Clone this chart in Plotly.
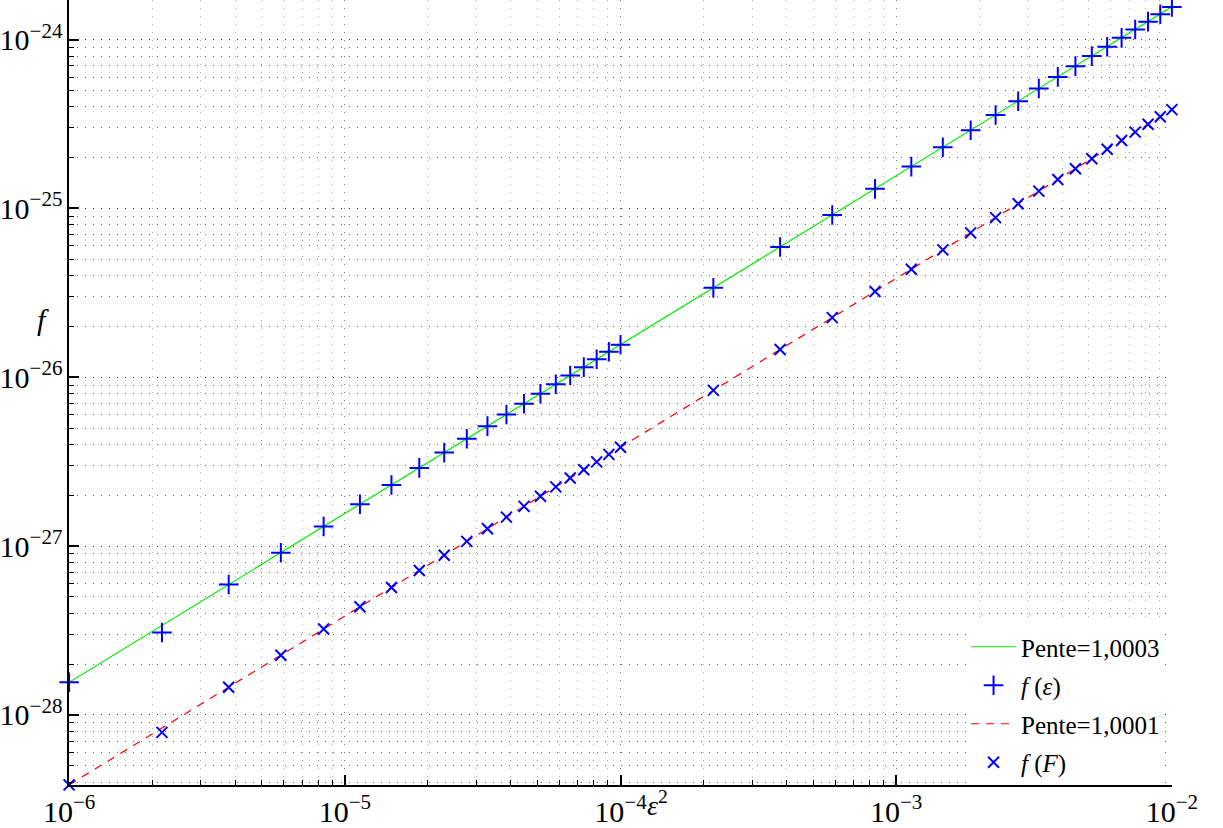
import plotly.graph_objects as go

# x = epsilon^2
eps2 = [1.0e-6, 2.1717e-6, 3.7922e-6, 5.8615e-6, 8.3795e-6, 1.13463e-5, 1.47618e-5,
        1.86261e-5, 2.29393e-5, 2.77011e-5, 3.29109e-5, 3.85703e-5, 4.46785e-5,
        5.12355e-5, 5.82413e-5, 6.56959e-5, 7.35975e-5, 8.19496e-5, 9.07504e-5, 1.0e-4,
        2.1717e-4, 3.7922e-4, 5.8615e-4, 8.3795e-4, 1.13463e-3, 1.47618e-3,
        1.86261e-3, 2.29393e-3, 2.77011e-3, 3.29109e-3, 3.85703e-3, 4.46785e-3,
        5.12355e-3, 5.82413e-3, 6.56959e-3, 7.35975e-3, 8.19496e-3, 9.07504e-3, 1.0e-2]

f_eps = [1.56e-28, 3.08e-28, 5.92e-28, 9.14e-28, 1.307e-27, 1.770e-27, 2.303e-27,
         2.906e-27, 3.579e-27, 4.321e-27, 5.134e-27, 6.017e-27, 6.970e-27,
         7.993e-27, 9.086e-27, 1.0249e-26, 1.1481e-26, 1.2784e-26, 1.4157e-26, 1.560e-26,
         3.388e-26, 5.916e-26, 9.144e-26, 1.3072e-25, 1.770e-25, 2.303e-25,
         2.906e-25, 3.579e-25, 4.321e-25, 5.134e-25, 6.017e-25, 6.970e-25,
         7.993e-25, 9.086e-25, 1.0249e-24, 1.1481e-24, 1.2784e-24, 1.4157e-24, 1.560e-24]

f_F = [3.85e-29, 7.88e-29, 1.460e-28, 2.257e-28, 3.226e-28, 4.368e-28, 5.683e-28,
       7.171e-28, 8.832e-28, 1.0665e-27, 1.2671e-27, 1.4850e-27, 1.7201e-27,
       1.9726e-27, 2.2423e-27, 2.5293e-27, 2.8335e-27, 3.1551e-27, 3.4939e-27, 3.85e-27,
       8.361e-27, 1.460e-26, 2.257e-26, 3.226e-26, 4.368e-26, 5.683e-26,
       7.171e-26, 8.832e-26, 1.0665e-25, 1.2671e-25, 1.4850e-25, 1.7201e-25,
       1.9726e-25, 2.2423e-25, 2.5293e-25, 2.8335e-25, 3.1551e-25, 3.4939e-25, 3.85e-25]

fit_x = [1e-6, 1e-2]
fit_eps = [1.56e-28, 1.5643e-24]
fit_F = [3.85e-29, 3.8535e-25]

names = ["Pente=1,0003", "<i>f</i> (<i>ε</i>)", "Pente=1,0001", "<i>f</i> (<i>F</i>)"]

SERIF = "Liberation Serif"

fig = go.Figure()
fig.add_trace(go.Scatter(x=fit_x, y=fit_eps, mode="lines", name=names[0], legendgroup="a",
                         line=dict(color="#00ee00", width=1.2)))
fig.add_trace(go.Scatter(x=eps2, y=f_eps, mode="markers", name=names[1], legendgroup="b",
                         cliponaxis=False,
                         marker=dict(symbol="cross-thin", size=14, color="#0000ff",
                                     line=dict(color="#0000ff", width=2))))
fig.add_trace(go.Scatter(x=fit_x, y=fit_F, mode="lines", name=names[2], legendgroup="c",
                         line=dict(color="#ff0000", width=1.2, dash="8px,7px")))
fig.add_trace(go.Scatter(x=eps2, y=f_F, mode="markers", name=names[3], legendgroup="d",
                         cliponaxis=False,
                         marker=dict(symbol="x-thin", size=11, color="#0000ff",
                                     line=dict(color="#0000ff", width=2))))

axis_common = dict(
    type="log", showline=True, linecolor="black", linewidth=1.5, mirror=False,
    ticks="inside", ticklen=10, tickwidth=1.5, tickcolor="black",
    tickmode="linear", tick0=0, dtick=1,
    exponentformat="power", showexponent="all",
    tickfont=dict(family=SERIF, size=24, color="black"),
    zeroline=False,
)

fig.update_layout(
    width=1223, height=828,
    margin=dict(l=68, r=51, t=0, b=37),
    paper_bgcolor="white", plot_bgcolor="white",
    showlegend=True,
    legend=dict(x=0.9937, xanchor="right", y=0.0, yanchor="bottom",
                bgcolor="white", borderwidth=0, tracegroupgap=3,
                itemwidth=45, traceorder="grouped",
                font=dict(family=SERIF, size=25, color="black")),
    xaxis=dict(axis_common, range=[-6.0004, -1.9996], showgrid=True, gridcolor="#777",
               griddash="1px,7px", gridwidth=1,
               minor=dict(ticks="inside", ticklen=5, tickcolor="black", tickwidth=1,
                          dtick="D1", showgrid=True, gridcolor="#aaa",
                          griddash="1px,7px", gridwidth=1)),
    yaxis=dict(axis_common, range=[-28.4152, -23.765], showgrid=True, gridcolor="#333",
               griddash="1px,7px", gridwidth=1,
               minor=dict(ticks="inside", ticklen=5, tickcolor="black", tickwidth=1,
                          dtick="D1", showgrid=True, gridcolor="#666",
                          griddash="1px,7px", gridwidth=1)),
    annotations=[
        dict(text="<i>ε</i><sup>2</sup>", xref="paper", yref="paper", x=0.5226, y=-0.024,
             xanchor="left", yanchor="middle", showarrow=False,
             font=dict(family=SERIF, size=28, color="black")),
        dict(text="<i>f</i>", xref="paper", yref="paper", x=-0.024, y=0.593,
             xanchor="center", yanchor="middle", showarrow=False,
             font=dict(family=SERIF, size=30, color="black")),
    ],
)

fig.write_html("out.html", config={"displayModeBar": False},
               post_script="document.body.style.margin='0px';")
